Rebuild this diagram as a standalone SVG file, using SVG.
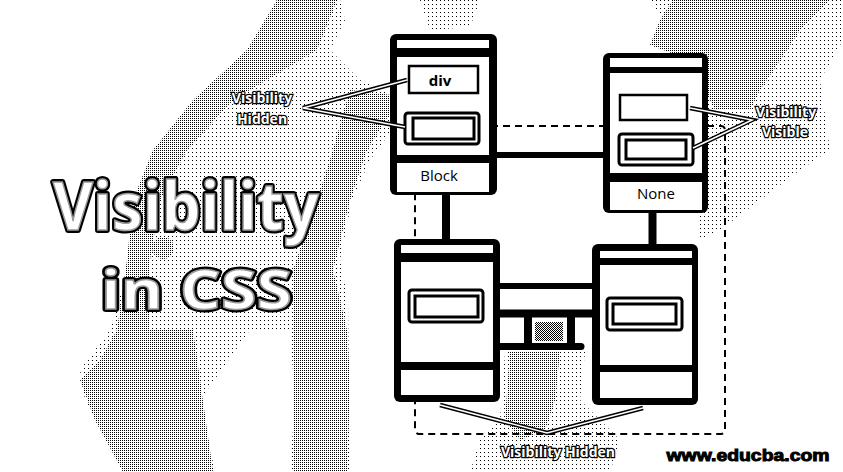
<svg xmlns="http://www.w3.org/2000/svg" width="843" height="472" viewBox="0 0 843 472">
<defs>
<pattern id="p25" width="2" height="2" patternUnits="userSpaceOnUse"><rect width="1" height="1" fill="#000"/></pattern>
<pattern id="p11" width="4" height="4" patternUnits="userSpaceOnUse"><rect width="1" height="1" fill="#000"/></pattern>
<pattern id="p50" width="2" height="2" patternUnits="userSpaceOnUse"><rect width="1" height="1" fill="#000"/><rect x="1" y="1" width="1" height="1" fill="#000"/></pattern>
<style>
.frame{fill:#000}
.wh{fill:#fff}
.thin{fill:#fff;stroke:#000;stroke-width:2.5}
.dbl{fill:#fff;stroke:#000;stroke-width:3}
.bar{stroke:#000;fill:none}
.dash{fill:none;stroke:#000;stroke-width:2;stroke-dasharray:7 5}
.ptr1{fill:none;stroke:#000;stroke-width:4.5;stroke-linejoin:miter}
.ptr2{fill:none;stroke:#fff;stroke-width:1.6;stroke-linejoin:miter}
.lbl{font-family:"Open Sans","Liberation Sans",sans-serif;font-weight:700;font-size:14px;fill:#fff;stroke:#000;stroke-width:2.4px;paint-order:stroke;text-anchor:middle}
.cap{font-family:"Open Sans","Liberation Sans",sans-serif;font-size:15px;fill:#000;text-anchor:middle}
.ttl{font-family:"Open Sans","Noto Sans",sans-serif;font-weight:700}
</style>
</defs>
<rect width="843" height="472" fill="#fff"/>
<g id="background">
<polygon fill="url(#p11)" points="277,0 340,0 345,20 330,50 360,80 392,95 392,130 370,160 352,200 340,260 348,300 350,472 290,472 295,400 290,330 250,330 200,400 215,472 125,472 85,400 80,370 110,330 125,280 140,230 155,180 180,130 215,90 250,45"/>
<polygon fill="url(#p25)" points="277,0 337,0 317,50 233,100 187,150 160,200 150,260 150,330 117,330 127,260 133,200 153,150 193,100 247,50"/>
<polygon fill="url(#p25)" points="350,90 392,95 392,110 367,150 350,200 333,270 347,330 350,380 347,472 293,472 293,380 293,270 317,200 333,150 347,100"/>
<polygon fill="url(#p25)" points="117,330 193,330 200,380 213,472 123,472 95,420 80,380 100,360"/>
<circle cx="163" cy="248" r="11" fill="url(#p25)"/>
<polygon fill="url(#p11)" points="650,0 843,0 843,40 820,80 830,150 800,170 760,200 720,230 700,240 700,213 708,170 708,100 690,60"/>
<polygon fill="url(#p25)" points="673,0 830,0 800,30 787,50 760,90 750,110 715,110 690,60 650,45 660,20"/>
<polygon fill="url(#p11)" points="505,352 585,352 580,400 620,440 610,472 470,472 480,440 500,420"/>
<polygon fill="url(#p25)" points="510,352 560,352 555,400 545,430 520,440 505,420"/>
<polygon fill="url(#p11)" points="420,0 480,0 470,27 430,30"/>
<rect x="535" y="322" width="28" height="19" fill="url(#p50)"/>
</g>
<g id="title">
<text class="ttl" x="53" y="230" font-size="66" textLength="266" lengthAdjust="spacingAndGlyphs" fill="#fff" stroke="#000" stroke-width="6" stroke-linejoin="round">Visibility</text>
<text class="ttl" x="53" y="230" font-size="66" textLength="266" lengthAdjust="spacingAndGlyphs" fill="#fff" stroke="#9a9a9a" stroke-width="1.5">Visibility</text>
<text class="ttl" x="101" y="309" font-size="54" textLength="191" lengthAdjust="spacingAndGlyphs" fill="#fff" stroke="#000" stroke-width="6" stroke-linejoin="round">in CSS</text>
<text class="ttl" x="101" y="309" font-size="54" textLength="191" lengthAdjust="spacingAndGlyphs" fill="#fff" stroke="#9a9a9a" stroke-width="1.5">in CSS</text>
</g>
<g id="connectors">
<rect class="dash" x="415" y="126" width="310" height="308" rx="4"/>
<path class="bar" stroke-width="6" d="M497 155 H603"/>
<path class="bar" stroke-width="8" d="M446 195 V239"/>
<path class="bar" stroke-width="8" d="M652.5 213 V244"/>
<path class="bar" stroke-width="6" d="M500 286 H592"/>
<path class="bar" stroke-width="8" d="M500 313.5 H592"/>
<path class="bar" stroke-width="8" d="M528 313 V346"/>
<path class="bar" stroke-width="8" d="M571 313 V346"/>
<path class="bar" stroke-width="7" stroke-linecap="round" d="M500 346.5 H581"/>
</g>
<g id="node-block">
<rect class="frame" x="390" y="34" width="107" height="161" rx="6"/>
<rect class="wh" x="397" y="40" width="92" height="8"/>
<rect class="wh" x="397" y="57" width="92" height="98"/>
<rect class="wh" x="397" y="163" width="92" height="29"/>
<rect class="thin" x="409" y="66" width="69" height="27"/>
<text x="440" y="86" font-family="'Open Sans','Liberation Sans',sans-serif" font-weight="700" font-size="15" text-anchor="middle" fill="#000">div</text>
<rect class="dbl" x="405" y="113" width="74" height="31" rx="3"/>
<rect class="dbl" x="413" y="118" width="61" height="21"/>
<text class="cap" x="439" y="181">Block</text>
</g>
<g id="node-none">
<rect class="frame" x="603" y="53" width="105" height="160" rx="6"/>
<rect class="wh" x="610" y="58" width="92" height="9"/>
<rect class="wh" x="610" y="73" width="92" height="100"/>
<rect class="wh" x="610" y="182" width="92" height="28"/>
<rect class="thin" x="620" y="95" width="67" height="25"/>
<rect class="dbl" x="619" y="134" width="74" height="31" rx="3"/>
<rect class="dbl" x="626" y="140" width="60" height="19"/>
<text class="cap" x="656" y="199">None</text>
</g>
<g id="node-bottom-left">
<rect class="frame" x="394" y="239" width="106" height="163" rx="6"/>
<rect class="wh" x="401" y="245" width="92" height="8"/>
<rect class="wh" x="401" y="262" width="92" height="100"/>
<rect class="wh" x="401" y="370" width="92" height="25"/>
<rect class="dbl" x="409" y="290" width="74" height="32" rx="3"/>
<rect class="dbl" x="415" y="296" width="63" height="21"/>
</g>
<g id="node-bottom-right">
<rect class="frame" x="592" y="244" width="106" height="161" rx="6"/>
<rect class="wh" x="600" y="251" width="92" height="7"/>
<rect class="wh" x="600" y="265" width="92" height="100"/>
<rect class="wh" x="600" y="372" width="92" height="26"/>
<rect class="dbl" x="607" y="298" width="75" height="32" rx="3"/>
<rect class="dbl" x="613" y="304" width="63" height="20"/>
</g>
<g id="annotations">
<polyline class="ptr1" points="407,80 303,108 405,127"/>
<polyline class="ptr2" points="407,80 303,108 405,127"/>
<polyline class="ptr1" points="690,108 752,120 693,148"/>
<polyline class="ptr2" points="690,108 752,120 693,148"/>
<polyline class="ptr1" points="440,405 547,433 643,408"/>
<polyline class="ptr2" points="440,405 547,433 643,408"/>
<text class="lbl" x="262" y="103">Visibility</text>
<text class="lbl" x="262" y="124">Hidden</text>
<text class="lbl" x="786" y="117">Visibility</text>
<text class="lbl" x="785" y="137">Visible</text>
<text class="lbl" x="558" y="457">Visibility Hidden</text>
</g>
<g id="watermark">
<text x="748" y="461" font-family="'Liberation Sans','DejaVu Sans',sans-serif" font-weight="700" font-size="17" text-anchor="middle" textLength="163" lengthAdjust="spacingAndGlyphs" fill="#000" stroke="#000" stroke-width="1">www.educba.com</text>
</g>
</svg>
